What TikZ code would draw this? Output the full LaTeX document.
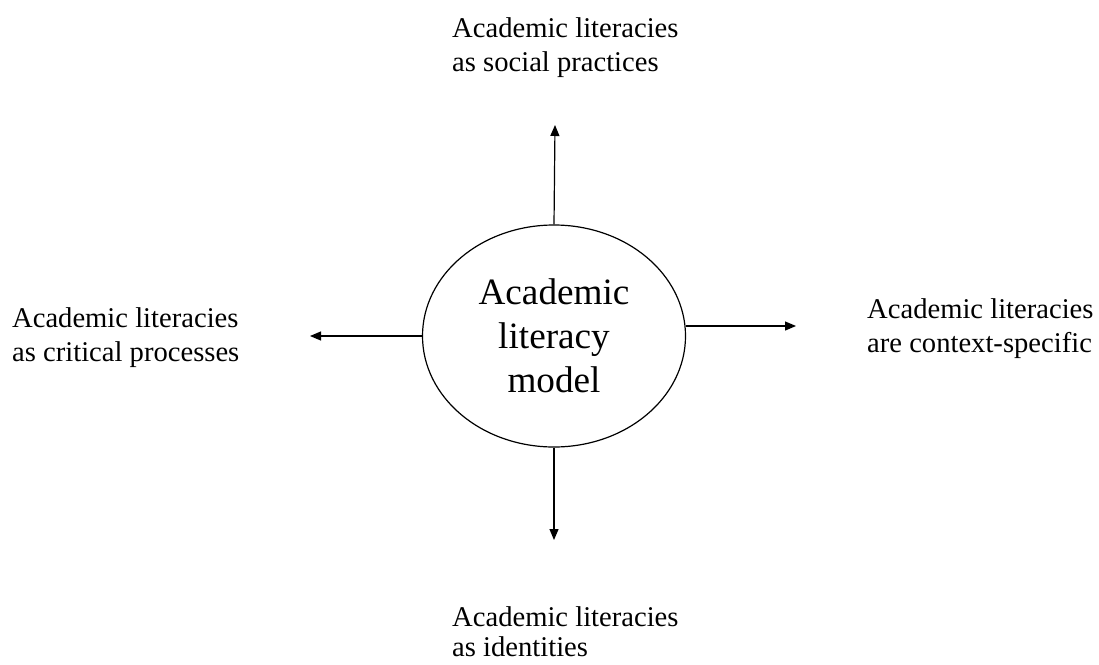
\documentclass[tikz,border=0pt]{standalone}
\usepackage{fontspec}
\setmainfont{Liberation Serif}
\usetikzlibrary{shapes.geometric,arrows.meta}
\begin{document}
\begin{tikzpicture}[x=1pt,y=-1pt,
  lbl/.style={align=left,anchor=base west,inner sep=0pt,font=\fontsize{28.6}{34}\selectfont},
  arr/.style={line width=1.2pt,-{Triangle[length=11pt,width=9pt]}}]
\useasboundingbox (0,0) rectangle (1099,664);
\node[ellipse,draw,line width=1.2pt,minimum width=263pt,minimum height=222pt,inner sep=0pt,
  align=center,font=\fontsize{37.2}{44}\selectfont] (ell) at (554,336) {Academic\\literacy\\model};
\node[lbl] (top) at (452,71) {Academic literacies\\as social practices};
\node[lbl] (left) at (12,361) {Academic literacies\\as critical processes};
\node[lbl] (right) at (867,352) {Academic literacies\\are context-specific};
\node[lbl,font=\fontsize{28.6}{30}\selectfont] (bot) at (452,656) {Academic literacies\\as identities};
\coordinate (tt) at (555,125);
\coordinate (bt) at (554,540);
\coordinate (lt) at (310,336);
\coordinate (rt) at (796,326);
\draw[arr] (ell.north) -- (tt);
\draw[arr] (ell.south) -- (bt);
\draw[arr] (ell.west) -- (lt);
\draw[arr] (ell.east |- rt) -- (rt);
\end{tikzpicture}
\end{document}
